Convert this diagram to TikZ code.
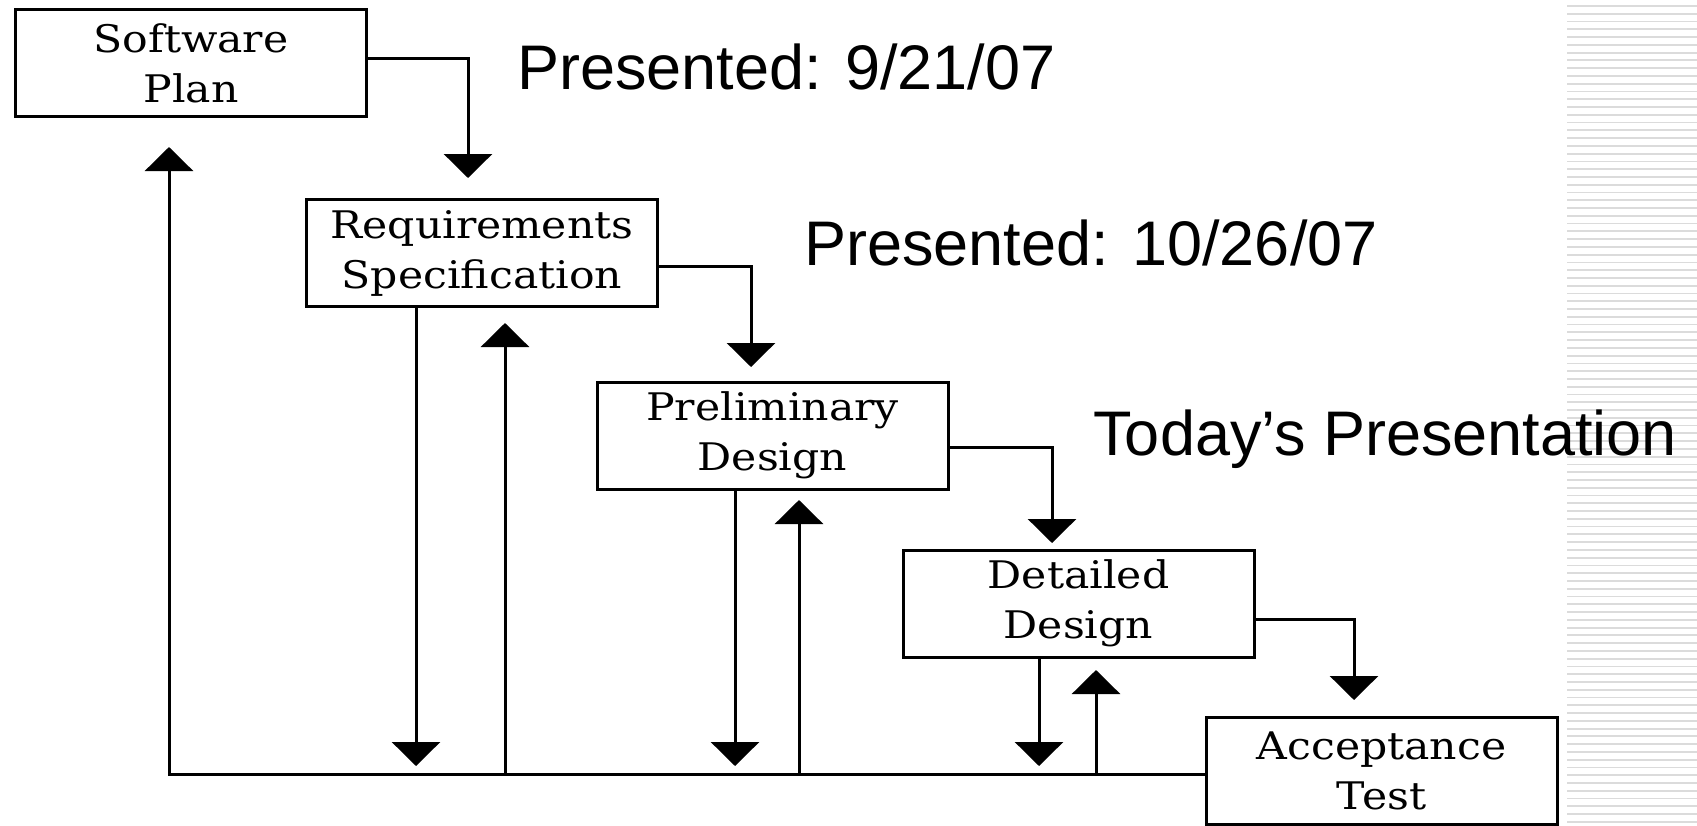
\documentclass[tikz,border=0pt]{standalone}
\usepackage{fontspec}
\setmainfont{Liberation Sans}
\newfontfamily\boxfont[FakeStretch=1.12]{DejaVu Serif}
\usetikzlibrary{arrows.meta}
\tikzset{
  phase/.style={draw, line width=1.5pt, minimum width=175.5pt, minimum height=53.5pt,
    inner sep=0pt, align=center, font=\boxfont\fontsize{19}{25}\selectfont},
  flow/.style={->, line width=1.5pt},
  stamp/.style={anchor=base west, inner sep=0pt, font=\fontsize{31.5}{38}\selectfont},
  stripe/.style={black!14, line width=0.9pt}
}
\begin{document}
\begin{tikzpicture}[x=0.5pt, y=-0.5pt, >={Triangle[width=24pt,length=12pt]}]
  \useasboundingbox (0,0) rectangle (1697,825);
  \foreach \i in {0,...,105}
    \draw[stripe] (1567,{6+7.77*\i}) -- (1697,{6+7.77*\i});

  \node[phase] (sp)  at (191,63)     {Software\\Plan};
  \node[phase] (req) at (482,253)    {Requirements\\Specification};
  \node[phase] (pre) at (772.5,435.5) {Preliminary\\Design};
  \node[phase] (det) at (1078.5,603.5) {Detailed\\Design};
  \node[phase] (acc) at (1381.5,770.5) {Acceptance\\Test};

  \node[stamp] (p1) at (517,89)   {Presented: 9/21/07};
  \node[stamp] (p2) at (804,265)  {Presented: 10/26/07};
  \node[stamp] (p3) at (1093,455) {Today’s Presentation};

  \path
    (468,178)  coordinate (t1)
    (751,367)  coordinate (t2)
    (1052,543) coordinate (t3)
    (1354,700) coordinate (t4)
    (416,766)  coordinate (d2)
    (735,766)  coordinate (d3)
    (1039,766) coordinate (d4)
    (169,147)  coordinate (u1)
    (505,323)  coordinate (u2)
    (799,500)  coordinate (u3)
    (1096,670) coordinate (u4)
    (169,774)  coordinate (B)
    ;

  \draw[flow] ([yshift=2.5pt]sp.east) -| (t1);
  \draw[flow] ([yshift=-6.5pt]req.east) -| (t2);
  \draw[flow] ([yshift=-6pt]pre.east) -| (t3);
  \draw[flow] ([yshift=-8pt]det.east) -| (t4);
  \foreach \b/\d in {req/d2, pre/d3, det/d4}
    \draw[flow] (\b.south -| \d) -- (\d);
  \foreach \u in {u2,u3,u4}
    \draw[flow] (\u |- B) -- (\u);
  \draw[flow] (acc.west |- B) -- (B) -- (u1);
\end{tikzpicture}
\end{document}
